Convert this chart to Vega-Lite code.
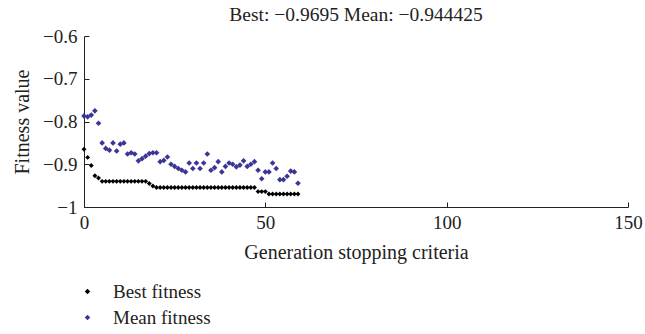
{
  "$schema": "https://vega.github.io/schema/vega-lite/v6.json",
  "autosize": {"type": "none"},
  "padding": {"left": 84, "top": 36, "right": 17, "bottom": 127},
  "width": 544,
  "height": 171,
  "background": "white",
  "title": {"text": "Best: −0.9695 Mean: −0.944425", "font": "Liberation Serif", "fontSize": 19.5, "fontWeight": "normal", "color": "#222", "anchor": "middle", "offset": 2},
  "datasets": {
    "best": [
      {"g":0,"v":-0.865},{"g":1,"v":-0.884},{"g":2,"v":-0.903},{"g":3,"v":-0.927},{"g":4,"v":-0.932},
      {"g":5,"v":-0.94},{"g":6,"v":-0.94},{"g":7,"v":-0.94},{"g":8,"v":-0.94},{"g":9,"v":-0.94},{"g":10,"v":-0.94},{"g":11,"v":-0.94},{"g":12,"v":-0.94},{"g":13,"v":-0.94},{"g":14,"v":-0.94},{"g":15,"v":-0.94},{"g":16,"v":-0.94},{"g":17,"v":-0.94},
      {"g":18,"v":-0.945},{"g":19,"v":-0.951},
      {"g":20,"v":-0.9545},{"g":21,"v":-0.9545},{"g":22,"v":-0.9545},{"g":23,"v":-0.9545},{"g":24,"v":-0.9545},{"g":25,"v":-0.9545},{"g":26,"v":-0.9545},{"g":27,"v":-0.9545},{"g":28,"v":-0.9545},{"g":29,"v":-0.9545},{"g":30,"v":-0.9545},{"g":31,"v":-0.9545},{"g":32,"v":-0.9545},{"g":33,"v":-0.9545},{"g":34,"v":-0.9545},{"g":35,"v":-0.9545},{"g":36,"v":-0.9545},{"g":37,"v":-0.9545},{"g":38,"v":-0.9545},{"g":39,"v":-0.9545},{"g":40,"v":-0.9545},{"g":41,"v":-0.9545},{"g":42,"v":-0.9545},{"g":43,"v":-0.9545},{"g":44,"v":-0.9545},{"g":45,"v":-0.9545},{"g":46,"v":-0.9545},{"g":47,"v":-0.9545},
      {"g":48,"v":-0.964},{"g":49,"v":-0.964},{"g":50,"v":-0.964},
      {"g":51,"v":-0.9695},{"g":52,"v":-0.9695},{"g":53,"v":-0.9695},{"g":54,"v":-0.9695},{"g":55,"v":-0.9695},{"g":56,"v":-0.9695},{"g":57,"v":-0.9695},{"g":58,"v":-0.9695},{"g":59,"v":-0.9695}
    ],
    "mean": [
      {"g":0,"v":-0.787},{"g":1,"v":-0.789},{"g":2,"v":-0.785},{"g":3,"v":-0.775},{"g":4,"v":-0.804},
      {"g":5,"v":-0.85},{"g":6,"v":-0.863},{"g":7,"v":-0.867},{"g":8,"v":-0.85},{"g":9,"v":-0.869},
      {"g":10,"v":-0.853},{"g":11,"v":-0.85},{"g":12,"v":-0.876},{"g":13,"v":-0.873},{"g":14,"v":-0.876},
      {"g":15,"v":-0.892},{"g":16,"v":-0.887},{"g":17,"v":-0.881},{"g":18,"v":-0.875},{"g":19,"v":-0.873},
      {"g":20,"v":-0.873},{"g":21,"v":-0.894},{"g":22,"v":-0.891},{"g":23,"v":-0.883},{"g":24,"v":-0.9},
      {"g":25,"v":-0.905},{"g":26,"v":-0.91},{"g":27,"v":-0.914},{"g":28,"v":-0.918},{"g":29,"v":-0.897},
      {"g":30,"v":-0.91},{"g":31,"v":-0.897},{"g":32,"v":-0.91},{"g":33,"v":-0.897},{"g":34,"v":-0.876},
      {"g":35,"v":-0.914},{"g":36,"v":-0.908},{"g":37,"v":-0.894},{"g":38,"v":-0.918},{"g":39,"v":-0.905},
      {"g":40,"v":-0.897},{"g":41,"v":-0.9},{"g":42,"v":-0.906},{"g":43,"v":-0.902},{"g":44,"v":-0.892},
      {"g":45,"v":-0.905},{"g":46,"v":-0.9},{"g":47,"v":-0.894},{"g":48,"v":-0.914},{"g":49,"v":-0.934},
      {"g":50,"v":-0.918},{"g":51,"v":-0.918},{"g":52,"v":-0.897},{"g":53,"v":-0.91},{"g":54,"v":-0.936},
      {"g":55,"v":-0.936},{"g":56,"v":-0.928},{"g":57,"v":-0.916},{"g":58,"v":-0.918},{"g":59,"v":-0.944425}
    ]
  },
  "config": {
    "view": {"stroke": null},
    "font": "Liberation Serif",
    "axis": {"grid": false, "domainColor": "#222", "tickColor": "#222", "labelColor": "#222", "titleColor": "#222", "labelFont": "Liberation Serif", "titleFont": "Liberation Serif", "labelFontSize": 19, "titleFontSize": 20, "titleFontWeight": "normal", "tickSize": -5, "domainWidth": 1, "tickWidth": 1}
  },
  "layer": [
    {
      "data": {"name": "mean"},
      "transform": [{"calculate": "'Mean fitness'", "as": "series"}],
      "mark": {"type": "point", "shape": "diamond", "filled": true, "size": 32, "opacity": 1},
      "encoding": {
        "x": {"field": "g", "type": "quantitative", "scale": {"domain": [0, 150], "nice": false}, "axis": {"values": [0, 50, 100, 150], "title": "Generation stopping criteria", "labelPadding": 11, "titlePadding": 10, "labelFlush": false}},
        "y": {"field": "v", "type": "quantitative", "scale": {"domain": [-1, -0.6], "nice": false, "zero": false}, "axis": {"values": [-1, -0.9, -0.8, -0.7, -0.6], "format": ".1~f", "title": "Fitness value", "labelPadding": 12, "titlePadding": 10}},
        "color": {"field": "series", "type": "nominal", "scale": {"domain": ["Best fitness", "Mean fitness"], "range": ["#000000", "#3b3596"]}, "legend": {"title": null, "orient": "none", "legendX": -6, "legendY": 246, "symbolType": "diamond", "symbolSize": 30, "labelFontSize": 19, "labelFont": "Liberation Serif", "labelColor": "#222", "rowPadding": 6, "labelOffset": 16}}
      }
    },
    {
      "data": {"name": "best"},
      "transform": [{"calculate": "'Best fitness'", "as": "series"}],
      "mark": {"type": "point", "shape": "diamond", "filled": true, "size": 24, "opacity": 1},
      "encoding": {
        "x": {"field": "g", "type": "quantitative"},
        "y": {"field": "v", "type": "quantitative"},
        "color": {"field": "series", "type": "nominal"}
      }
    }
  ]
}
